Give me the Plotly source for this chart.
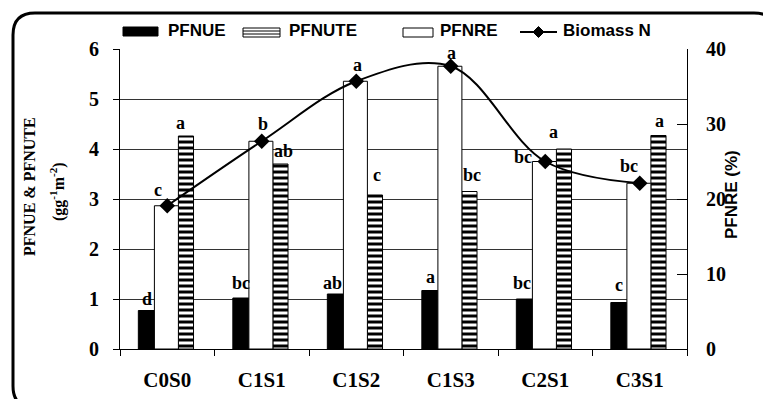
import plotly.graph_objects as go

# ---------------- data ----------------
categories = ["C0S0", "C1S1", "C1S2", "C1S3", "C2S1", "C3S1"]
pfnue = [0.77, 1.02, 1.10, 1.17, 1.00, 0.93]          # g g-1 m-2 (left axis)
pfnute = [4.26, 3.70, 3.08, 3.15, 4.00, 4.27]         # g g-1 m-2 (left axis)
pfnre = [19.1, 27.7, 35.7, 37.7, 25.0, 22.1]          # % (right axis)
biomass_n = [19.1, 27.7, 35.7, 37.7, 25.0, 22.1]      # line (right axis)
letters_pfnue = ["d", "bc", "ab", "a", "bc", "c"]
letters_pfnre = ["c", "b", "a", "a", "bc", "bc"]
letters_pfnute = ["a", "ab", "c", "bc", "a", "a"]
left_ticks = [0, 1, 2, 3, 4, 5, 6]
left_grid = [1, 2, 3, 4, 5]
right_ticks = [0, 10, 20, 30, 40]

# ---------------- layout geometry ----------------
W, H = 763, 399
L, R, T, B = 120, 76, 49, 50
PW, PH = W - L - R, H - T - B
CAT_PX = PW / len(categories)

def px2x(p):
    return (p - L) / PW

def py2y(p):
    return (H - B - p) / PH

SERIF = "Liberation Serif"
SANS = "Liberation Sans"

# bar geometry (category units)
OFF_UE, W_UE = -0.306, 0.17
OFF_RE, W_RE = -0.136, 0.254
OFF_UTE, W_UTE = 0.118, 0.16

fig = go.Figure()

fig.add_trace(go.Bar(
    x=categories, y=pfnue, name="PFNUE", offset=OFF_UE, width=W_UE,
    marker=dict(color="black", line=dict(color="black", width=1)),
    yaxis="y", showlegend=False))

fig.add_trace(go.Bar(
    x=categories, y=pfnute, name="PFNUTE", offset=OFF_UTE, width=W_UTE,
    marker=dict(color="white", line=dict(color="black", width=1),
                pattern=dict(shape="-", fgcolor="black", bgcolor="white",
                             size=6, solidity=0.5, fillmode="replace")),
    yaxis="y", showlegend=False))

fig.add_trace(go.Bar(
    x=categories, y=pfnre, name="PFNRE", offset=OFF_RE, width=W_RE,
    marker=dict(color="white", line=dict(color="black", width=1)),
    yaxis="y2", showlegend=False))

fig.add_trace(go.Scatter(
    x=categories, y=biomass_n, name="Biomass N", mode="lines+markers",
    line=dict(color="black", width=2, shape="spline", smoothing=1.0),
    marker=dict(symbol="diamond", size=12, color="black"),
    yaxis="y2", showlegend=False))

annotations = []

# significance letters
dx_ue = [1, 0, -3, 1, -2, 0]
dy_ue = [12, 15, 11, 14, 16, 18]
dx_re = [-8, 2, 2, 2, -21, -10]
dy_re = [16, 17, 16, 13, 5, 17]
dx_ute = [-5, 3, 2, 3, -10, 1]
dy_ute = [13, 13, 20, 17, 17, 15]

def add_letters(letters, vals, off, wid, dxs, dys, yref):
    for c, v, t, dx, dy in zip(categories, vals, letters, dxs, dys):
        annotations.append(dict(
            x=c, y=v, xref="x", yref=yref, text=t, showarrow=False,
            xshift=(off + wid / 2) * CAT_PX + dx, yshift=dy,
            yanchor="middle", xanchor="center",
            font=dict(family=SERIF, size=18, color="black", weight="bold")))

add_letters(letters_pfnue, pfnue, OFF_UE, W_UE, dx_ue, dy_ue, "y")
add_letters(letters_pfnre, pfnre, OFF_RE, W_RE, dx_re, dy_re, "y2")
add_letters(letters_pfnute, pfnute, OFF_UTE, W_UTE, dx_ute, dy_ute, "y")

# axis titles
annotations.append(dict(
    x=px2x(29), y=py2y(187), xref="paper", yref="paper",
    text="PFNUE &amp; PFNUTE",
    showarrow=False, textangle=-90, xanchor="center", yanchor="middle",
    font=dict(family=SERIF, size=16, color="black", weight="bold")))
annotations.append(dict(
    x=px2x(57), y=py2y(192), xref="paper", yref="paper",
    text="(gg<sup>-1</sup>m<sup>-2</sup>)",
    showarrow=False, textangle=-90, xanchor="center", yanchor="middle",
    font=dict(family=SERIF, size=16, color="black", weight="bold")))
annotations.append(dict(
    x=px2x(731), y=py2y(195), xref="paper", yref="paper",
    text="PFNRE (%)", showarrow=False, textangle=-90,
    xanchor="center", yanchor="middle",
    font=dict(family=SANS, size=17, color="black", weight="bold")))

# ---------------- custom legend ----------------
shapes = []

def rect(x0, y0, x1, y1, fill):
    shapes.append(dict(type="rect", xref="paper", yref="paper",
                       x0=px2x(x0), x1=px2x(x1), y0=py2y(y0), y1=py2y(y1),
                       fillcolor=fill, line=dict(color="black", width=1)))

def hline(x0, x1, y, w=1):
    shapes.append(dict(type="line", xref="paper", yref="paper",
                       x0=px2x(x0), x1=px2x(x1), y0=py2y(y), y1=py2y(y),
                       line=dict(color="black", width=w)))

rect(123, 27, 158, 36, "black")
rect(243, 28, 280, 37, "white")
hline(243, 280, 31)
hline(243, 280, 34)
rect(403, 28, 433, 37, "white")
hline(520, 557, 32, 2)
cx, cy, d = 538.5, 32, 5.5
shapes.append(dict(
    type="path", xref="paper", yref="paper", fillcolor="black",
    line=dict(color="black", width=1),
    path=(f"M {px2x(cx - d)} {py2y(cy)} L {px2x(cx)} {py2y(cy - d)} "
          f"L {px2x(cx + d)} {py2y(cy)} L {px2x(cx)} {py2y(cy + d)} Z")))

for txt, xpos in [("PFNUE", 166), ("PFNUTE", 287), ("PFNRE", 438), ("Biomass N", 561)]:
    annotations.append(dict(
        x=px2x(xpos), y=py2y(31), xref="paper", yref="paper", text=txt,
        showarrow=False, xanchor="left", yanchor="middle",
        font=dict(family=SANS, size=17, color="black", weight="bold")))

# ---------------- rounded frame ----------------
fx0, fy0, fx1, fy1, r = 13, 13, 776, 408, 22
pts = [
    ("M", fx0 + r, fy0), ("L", fx1 - r, fy0), ("Q", fx1, fy0, fx1, fy0 + r),
    ("L", fx1, fy1 - r), ("Q", fx1, fy1, fx1 - r, fy1), ("L", fx0 + r, fy1),
    ("Q", fx0, fy1, fx0, fy1 - r), ("L", fx0, fy0 + r), ("Q", fx0, fy0, fx0 + r, fy0),
]
path = ""
for p in pts:
    if p[0] == "Q":
        path += f"Q {px2x(p[1])} {py2y(p[2])} {px2x(p[3])} {py2y(p[4])} "
    else:
        path += f"{p[0]} {px2x(p[1])} {py2y(p[2])} "
path += "Z"
shapes.append(dict(type="path", xref="paper", yref="paper", path=path,
                   line=dict(color="black", width=3), layer="above"))

fig.update_layout(
    width=W, height=H, autosize=False,
    margin=dict(l=L, r=R, t=T, b=B, pad=0, autoexpand=False),
    paper_bgcolor="white", plot_bgcolor="white",
    barmode="overlay", showlegend=False,
    annotations=annotations, shapes=shapes,
    xaxis=dict(
        type="category", range=[-0.5, len(categories) - 0.5], automargin=False,
        showline=True, linecolor="black", linewidth=1,
        ticks="outside", ticklen=6, tickcolor="black", tickson="boundaries",
        ticklabelstandoff=12, showgrid=False,
        tickfont=dict(family=SERIF, size=21, color="black", weight="bold")),
    yaxis=dict(
        range=[0, 6], tickvals=left_ticks, showline=True, linecolor="black",
        automargin=False,
        linewidth=1, ticks="outside", ticklen=6, tickcolor="black",
        ticklabelstandoff=10, showgrid=False, zeroline=False,
        minor=dict(tickvals=left_grid, showgrid=True, gridcolor="#333333",
                   gridwidth=1, ticks=""),
        tickfont=dict(family=SERIF, size=20, color="black", weight="bold")),
    yaxis2=dict(
        range=[0, 40], tickvals=right_ticks, overlaying="y", side="right",
        automargin=False,
        showline=True, linecolor="black", linewidth=1, ticks="inside",
        ticklen=10, tickcolor="black", ticklabelstandoff=14,
        showgrid=False, zeroline=False,
        tickfont=dict(family=SERIF, size=20, color="black", weight="bold")),
)

fig.write_html(
    "out.html",
    config={"displayModeBar": False},
    post_script="document.body.style.margin='0px';document.body.style.overflow='hidden';",
)
